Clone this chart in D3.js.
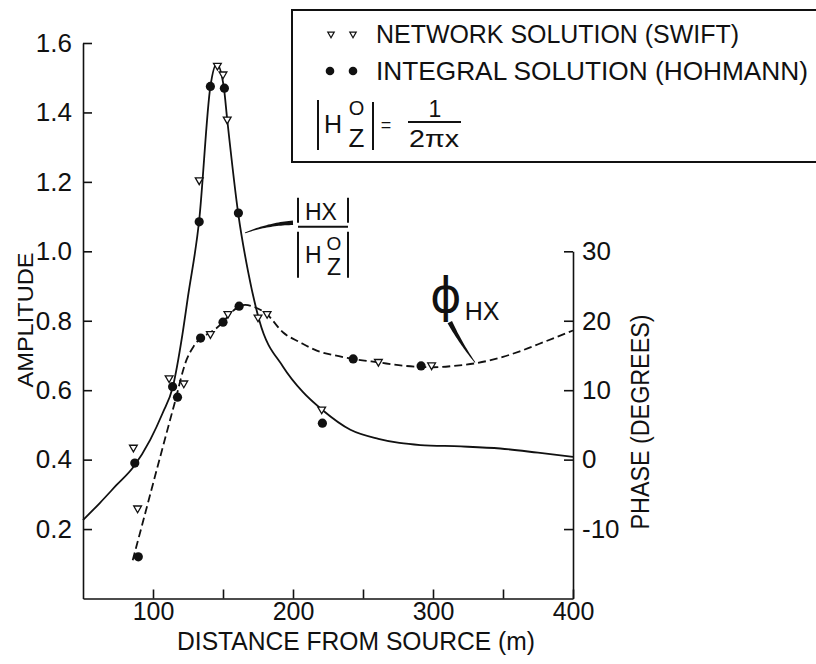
<!DOCTYPE html>
<html>
<head>
<meta charset="utf-8">
<script src="https://cdn.jsdelivr.net/npm/d3@7"></script>
<style>
  html, body { margin: 0; padding: 0; background: #fff; }
  svg { display: block; }
  text { font-family: "Liberation Sans", Arial, sans-serif; fill: #111; }
</style>
</head>
<body>
<svg id="chart" width="816" height="664"></svg>
<script>
// ---- Data -------------------------------------------------------------
// Smooth amplitude curve |Hx| / |Hz0| against distance from source (m)
const ampCurveX = [50, 62, 74, 86, 98, 107, 114, 121, 125, 133, 141, 145.5, 150.5, 153, 161, 168, 176, 193, 207, 221, 241, 261, 276, 291, 320, 348, 375, 400];
const ampCurveY = [0.226, 0.275, 0.327, 0.379, 0.457, 0.535, 0.607, 0.76, 0.87, 1.09, 1.475, 1.54, 1.475, 1.38, 1.105, 0.94, 0.80, 0.667, 0.595, 0.543, 0.486, 0.46, 0.448, 0.442, 0.438, 0.432, 0.42, 0.408];

// Smooth phase curve (degrees)
const phaseCurveX = [85.5, 95, 105, 115, 124, 129, 134, 141, 150, 155, 161, 166, 172, 181, 193, 205, 217, 230, 243, 261, 280, 300, 315, 331, 350, 362, 380, 400];
const phaseCurveY = [-14.5, -7.3, 0.3, 7.8, 14.4, 16.3, 17.5, 18.3, 19.8, 21, 22, 22.3, 22, 21, 18.3, 16.9, 15.7, 15.0, 14.5, 14.0, 13.5, 13.3, 13.5, 13.9, 14.8, 15.6, 17.0, 18.6];

// Network solution (Swift) - amplitude
const networkAmpX = [86, 111.5, 133, 146, 150, 153, 175, 220.5];
const networkAmpY = [0.435, 0.635, 1.205, 1.535, 1.51, 1.38, 0.81, 0.545];
// Integral solution (Hohmann) - amplitude
const integralAmpX = [87, 114, 133, 141, 151, 161, 221];
const integralAmpY = [0.39, 0.61, 1.085, 1.475, 1.47, 1.11, 0.505];
// Network solution (Swift) - phase
const networkPhaseX = [89, 122, 141, 153.5, 181.5, 261, 299];
const networkPhaseY = [-7, 11, 18.1, 21, 21, 14.1, 13.6];
// Integral solution (Hohmann) - phase
const integralPhaseX = [89.5, 117.5, 134, 150, 161.5, 243, 291.5];
const integralPhaseY = [-14, 9, 17.5, 19.8, 22.1, 14.5, 13.5];

// Axes ticks
const xTicks = [100, 150, 200, 250, 300, 350, 400];
const xTickLabels = ["100", "", "200", "", "300", "", "400"];
const ampTicks = [0.2, 0.4, 0.6, 0.8, 1.0, 1.2, 1.4, 1.6];
const phaseTicks = [-10, 0, 10, 20, 30];

// Annotation leaders (data units: [distance, amplitude] / [distance, phase])
const ampLeader = [[165.7, 1.053], [200, 1.082]];
const phaseLeader = [[312, 19.8], [330, 14.0]];

// ---- Scales -----------------------------------------------------------
const svg = d3.select("#chart");
const x = d3.scaleLinear().domain([50, 400]).range([83, 573]);
const yAmp = d3.scaleLinear().domain([0, 1.6]).range([598.5, 43]);
const yPhase = d3.scaleLinear().domain([-20, 30]).range([yAmp(0), yAmp(1.0)]);

const ink = "#111";

// ---- Axes -------------------------------------------------------------
function styleAxis(g, size) {
  g.attr("font-family", null).attr("font-size", null);
  g.selectAll("path.domain").attr("stroke", ink).attr("stroke-width", 1.6);
  g.selectAll(".tick line").attr("stroke", ink).attr("stroke-width", 1.6);
  g.selectAll(".tick text").attr("font-size", size).style("fill", ink);
}

svg.append("g")
  .attr("transform", `translate(${x(50)},0)`)
  .call(d3.axisLeft(yAmp).tickValues(ampTicks).tickSizeInner(-9).tickSizeOuter(0)
        .tickPadding(11).tickFormat(d3.format(".1f")))
  .call(g => styleAxis(g, 26));

svg.append("g")
  .attr("transform", `translate(0,${yAmp(0)})`)
  .call(d3.axisBottom(x).tickValues(xTicks).tickSizeInner(-9).tickSizeOuter(0)
        .tickPadding(4).tickFormat((d, i) => xTickLabels[i]))
  .call(g => styleAxis(g, 25));

svg.append("g")
  .attr("transform", `translate(${x(400)},0)`)
  .call(d3.axisRight(yPhase).tickValues(phaseTicks).tickSizeInner(-9).tickSizeOuter(0)
        .tickPadding(9).tickFormat(d => String(d)))
  .call(g => styleAxis(g, 26));

// Axis titles
svg.append("text")
  .attr("x", 356).attr("y", 650)
  .attr("text-anchor", "middle").attr("font-size", 26)
  .attr("textLength", 358).attr("lengthAdjust", "spacingAndGlyphs")
  .text("DISTANCE FROM SOURCE (m)");

svg.append("text")
  .attr("transform", "translate(33,320) rotate(-90)")
  .attr("text-anchor", "middle").attr("font-size", 22)
  .attr("textLength", 135).attr("lengthAdjust", "spacingAndGlyphs")
  .text("AMPLITUDE");

svg.append("text")
  .attr("transform", "translate(649,422) rotate(-90)")
  .attr("text-anchor", "middle").attr("font-size", 25)
  .attr("textLength", 215).attr("lengthAdjust", "spacingAndGlyphs")
  .text("PHASE (DEGREES)");

// ---- Curves -----------------------------------------------------------
const ampLine = d3.line().x(d => x(d[0])).y(d => yAmp(d[1])).curve(d3.curveMonotoneX);
const phaseLine = d3.line().x(d => x(d[0])).y(d => yPhase(d[1])).curve(d3.curveMonotoneX);

svg.append("path")
  .datum(d3.zip(ampCurveX, ampCurveY))
  .attr("d", ampLine)
  .attr("fill", "none").attr("stroke", ink).attr("stroke-width", 1.8);

svg.append("path")
  .datum(d3.zip(phaseCurveX, phaseCurveY))
  .attr("d", phaseLine)
  .attr("fill", "none").attr("stroke", ink).attr("stroke-width", 1.8)
  .attr("stroke-dasharray", "8,4");

// ---- Markers ----------------------------------------------------------
const tri = d3.symbol(d3.symbolTriangle, 26);
function triangles(xs, ys, yScale) {
  svg.append("g").selectAll("path")
    .data(d3.zip(xs, ys))
    .join("path")
    .attr("d", tri)
    .attr("transform", d => `translate(${x(d[0])},${yScale(d[1])}) rotate(180)`)
    .attr("fill", "#fff").attr("stroke", ink).attr("stroke-width", 1.3);
}
function dots(xs, ys, yScale) {
  svg.append("g").selectAll("circle")
    .data(d3.zip(xs, ys))
    .join("circle")
    .attr("cx", d => x(d[0])).attr("cy", d => yScale(d[1]))
    .attr("r", 4.6).attr("fill", ink);
}
dots(integralAmpX, integralAmpY, yAmp);
dots(integralPhaseX, integralPhaseY, yPhase);
triangles(networkAmpX, networkAmpY, yAmp);
triangles(networkPhaseX, networkPhaseY, yPhase);

// ---- Tapered leader lines ---------------------------------------------
function wedge(p0, p1, bend, w0, w1) {
  const mx = (p0[0] + p1[0]) / 2, my = (p0[1] + p1[1]) / 2;
  const dx = p1[0] - p0[0], dy = p1[1] - p0[1];
  const len = Math.hypot(dx, dy);
  const c = [mx - dy / len * bend, my + dx / len * bend];
  const left = [], right = [];
  const n = 24;
  for (let i = 0; i <= n; i++) {
    const t = i / n, u = 1 - t;
    const px = u * u * p0[0] + 2 * u * t * c[0] + t * t * p1[0];
    const py = u * u * p0[1] + 2 * u * t * c[1] + t * t * p1[1];
    const tx = 2 * u * (c[0] - p0[0]) + 2 * t * (p1[0] - c[0]);
    const ty = 2 * u * (c[1] - p0[1]) + 2 * t * (p1[1] - c[1]);
    const tl = Math.hypot(tx, ty);
    const w = (w0 + (w1 - w0) * t) / 2;
    left.push([px - ty / tl * w, py + tx / tl * w]);
    right.push([px + ty / tl * w, py - tx / tl * w]);
  }
  return "M" + left.concat(right.reverse()).map(p => p.join(",")).join("L") + "Z";
}

const a0 = [x(ampLeader[0][0]), yAmp(ampLeader[0][1])];
const a1 = [x(ampLeader[1][0]), yAmp(ampLeader[1][1])];
svg.append("path").attr("d", wedge(a0, a1, -4, 0.8, 4.5)).attr("fill", ink);

const f0 = [x(phaseLeader[0][0]), yPhase(phaseLeader[0][1])];
const f1 = [x(phaseLeader[1][0]), yPhase(phaseLeader[1][1])];
svg.append("path").attr("d", wedge(f0, f1, 2, 5, 0.8)).attr("fill", ink);

// ---- Amplitude ratio label |Hx| / |Hz0| --------------------------------
const la = svg.append("g").attr("transform", `translate(${a1[0]},${a1[1]})`);
const bar = (g, x0, y0, x1, y1, w) => g.append("line")
  .attr("x1", x0).attr("y1", y0).attr("x2", x1).attr("y2", y1)
  .attr("stroke", ink).attr("stroke-width", w);
bar(la, 5, -25, 5, 0, 2);
bar(la, 55, -25, 55, 0, 2);
la.append("text").attr("x", 12).attr("y", -3).attr("font-size", 23).text("HX");
bar(la, 5, 4, 55, 4, 2);
bar(la, 5, 9, 5, 55, 2);
bar(la, 55, 9, 55, 55, 2);
la.append("text").attr("x", 12).attr("y", 40).attr("font-size", 23).text("H");
la.append("text").attr("x", 41).attr("y", 27).attr("font-size", 19).attr("text-anchor", "middle").text("O");
la.append("text").attr("x", 41).attr("y", 52).attr("font-size", 23).attr("text-anchor", "middle").text("Z");

// ---- Phase label ------------------------------------------------------
const lp = svg.append("g").attr("transform", `translate(${f0[0]},${f0[1]})`);
lp.append("text").attr("x", -4).attr("y", -10).attr("font-size", 48)
  .attr("text-anchor", "middle").style("font-family", "'DejaVu Sans', sans-serif").text("ϕ");
lp.append("text").attr("x", 15).attr("y", -2).attr("font-size", 25).text("HX");

// ---- Legend -----------------------------------------------------------
const lg = svg.append("g");
lg.append("rect").attr("x", 292).attr("y", 10).attr("width", 560).attr("height", 152)
  .attr("fill", "#fff").attr("stroke", ink).attr("stroke-width", 2);
[331, 353].forEach(cx => lg.append("path").attr("d", d3.symbol(d3.symbolTriangle, 18)())
  .attr("transform", `translate(${cx},34) rotate(180)`)
  .attr("fill", "#fff").attr("stroke", ink).attr("stroke-width", 1.2));
[330, 353].forEach(cx => lg.append("circle").attr("cx", cx).attr("cy", 71).attr("r", 4.3).attr("fill", ink));
lg.append("text").attr("x", 376).attr("y", 43).attr("font-size", 25)
  .attr("textLength", 363).attr("lengthAdjust", "spacingAndGlyphs")
  .text("NETWORK SOLUTION (SWIFT)");
lg.append("text").attr("x", 376).attr("y", 80).attr("font-size", 25)
  .attr("textLength", 432).attr("lengthAdjust", "spacingAndGlyphs")
  .text("INTEGRAL SOLUTION (HOHMANN)");
// |Hz0| = 1 / (2 pi x)
bar(lg, 318, 100, 318, 150, 2);
bar(lg, 373, 102, 373, 150, 2);
lg.append("text").attr("x", 324).attr("y", 133).attr("font-size", 25).text("H");
lg.append("text").attr("x", 356.5).attr("y", 115).attr("font-size", 20).attr("text-anchor", "middle").text("O");
lg.append("text").attr("x", 356.5).attr("y", 147).attr("font-size", 26).attr("text-anchor", "middle").text("Z");
lg.append("text").attr("x", 386).attr("y", 131).attr("font-size", 18).attr("text-anchor", "middle").text("=");
lg.append("text").attr("x", 435).attr("y", 117).attr("font-size", 23).attr("text-anchor", "middle").text("1");
bar(lg, 408, 122, 461, 122, 2);
lg.append("text").attr("x", 434).attr("y", 147).attr("font-size", 23).attr("text-anchor", "middle")
  .attr("textLength", 50).attr("lengthAdjust", "spacingAndGlyphs").text("2πx");
</script>
</body>
</html>
